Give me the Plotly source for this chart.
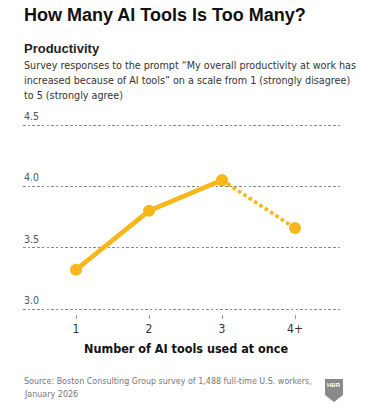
import plotly.graph_objects as go

# ---- data ----
categories = ["1", "2", "3", "4+"]
productivity = [3.32, 3.80, 4.05, 3.66]
y_ticks = [3.0, 3.5, 4.0, 4.5]
y_tick_labels = ["3.0", "3.5", "4.0", "4.5"]

title_text = "How Many AI Tools Is Too Many?"
subtitle_head = "Productivity"
subtitle_lines = [
    "Survey responses to the prompt \u201cMy overall productivity at work has",
    "increased because of AI tools\u201d on a scale from 1 (strongly disagree)",
    "to 5 (strongly agree)",
]
x_title = "Number of AI tools used at once"
source_lines = [
    "Source: Boston Consulting Group survey of 1,488 full-time U.S. workers,",
    "January 2026",
]

GOLD = "#F7B71A"
W, H = 372, 410
L, R, T, B = 23, 31, 122, 96
PW, PH = W - L - R, H - T - B
GAP = 2  # gap below y domain for x ticks
S = 184 / 1.5  # px per unit on y

def px(x):
    return (x - L) / PW

def py(y):
    return (H - B - y) / PH

COND = "DejaVu Sans Condensed, DejaVu Sans, sans-serif"
BOLD = "Liberation Sans, Arial, sans-serif"

fig = go.Figure()
# dotted part (last segment)
fig.add_trace(go.Scatter(
    x=categories[2:], y=productivity[2:], mode="lines+markers",
    line=dict(color=GOLD, width=3.8, dash="3.6px,2.8px"), marker=dict(size=12, color=GOLD),
    hoverinfo="skip", showlegend=False, cliponaxis=False))
# solid part (first three)
fig.add_trace(go.Scatter(
    x=categories[:3], y=productivity[:3], mode="lines+markers",
    line=dict(color=GOLD, width=4.7), marker=dict(size=12, color=GOLD),
    hoverinfo="skip", showlegend=False, cliponaxis=False))

fig.update_layout(
    width=W, height=H,
    margin=dict(l=L, r=R, t=T, b=B, pad=0),
    paper_bgcolor="white", plot_bgcolor="white",
    xaxis=dict(
        type="category", categoryorder="array", categoryarray=categories,
        range=[-0.726, 3.63], anchor="free", position=0,
        showgrid=False, zeroline=False, showline=False,
        ticks="outside", ticklen=4, tickwidth=1, tickcolor="#999",
        tickfont=dict(family=COND, size=12, color="#333"),
    ),
    yaxis=dict(
        domain=[GAP / PH, 1], range=[3.0 - 3 / S, 4.5 + 3 / S],
        tickvals=y_ticks, showticklabels=False, ticks="",
        showgrid=True, gridcolor="#888", griddash="2.5px,2.2px", gridwidth=1,
        zeroline=False, showline=False,
    ),
)

ann = []
for v, lab in zip(y_ticks, y_tick_labels):
    ann.append(dict(text=lab, x=0, xref="paper", y=v, yref="y", xanchor="left", yanchor="bottom",
                    yshift=1, xshift=-1, font=dict(family=COND, size=10.5, color="#555")))
ann.append(dict(text="<b>" + title_text + "</b>", x=px(22), y=py(15), xanchor="left", yanchor="middle",
                font=dict(family=BOLD, size=18, color="#111")))
ann.append(dict(text="<b>" + subtitle_head + "</b>", x=px(22), y=py(48.5), xanchor="left", yanchor="middle",
                font=dict(family=BOLD, size=13, color="#222")))
for i, line in enumerate(subtitle_lines):
    ann.append(dict(text=line, x=px(22), y=py(65.5 + 15 * i), xanchor="left", yanchor="middle",
                    font=dict(family=COND, size=10.7, color="#333")))
ann.append(dict(text="<b>" + x_title + "</b>", x=px(186), y=py(348), xanchor="center", yanchor="middle",
                font=dict(family=COND, size=12.5, color="#111")))
for i, line in enumerate(source_lines):
    ann.append(dict(text=line, x=px(22), y=py(381 + 13 * i), xanchor="left", yanchor="middle",
                    font=dict(family=COND, size=8.9, color="#777")))
ann.append(dict(text="<b>HBR</b>", x=px(334), y=py(385), xanchor="center", yanchor="middle",
                font=dict(family=BOLD, size=6, color="white")))
for a in ann:
    a.update(showarrow=False)
    a.setdefault("xref", "paper")
    a.setdefault("yref", "paper")
fig.update_layout(annotations=ann)

# HBR shield logo
x0, x1 = px(325), px(343)
yt, ym, yb = py(379), py(395), py(402)
xm = px(334)
fig.add_shape(type="path", xref="paper", yref="paper",
              path=f"M {x0} {yt} L {x1} {yt} L {x1} {ym} L {xm} {yb} L {x0} {ym} Z",
              fillcolor="#8a8a8a", line=dict(width=0))

fig.write_html("out.html", config={"displayModeBar": False},
               post_script="document.body.style.margin='0';")
